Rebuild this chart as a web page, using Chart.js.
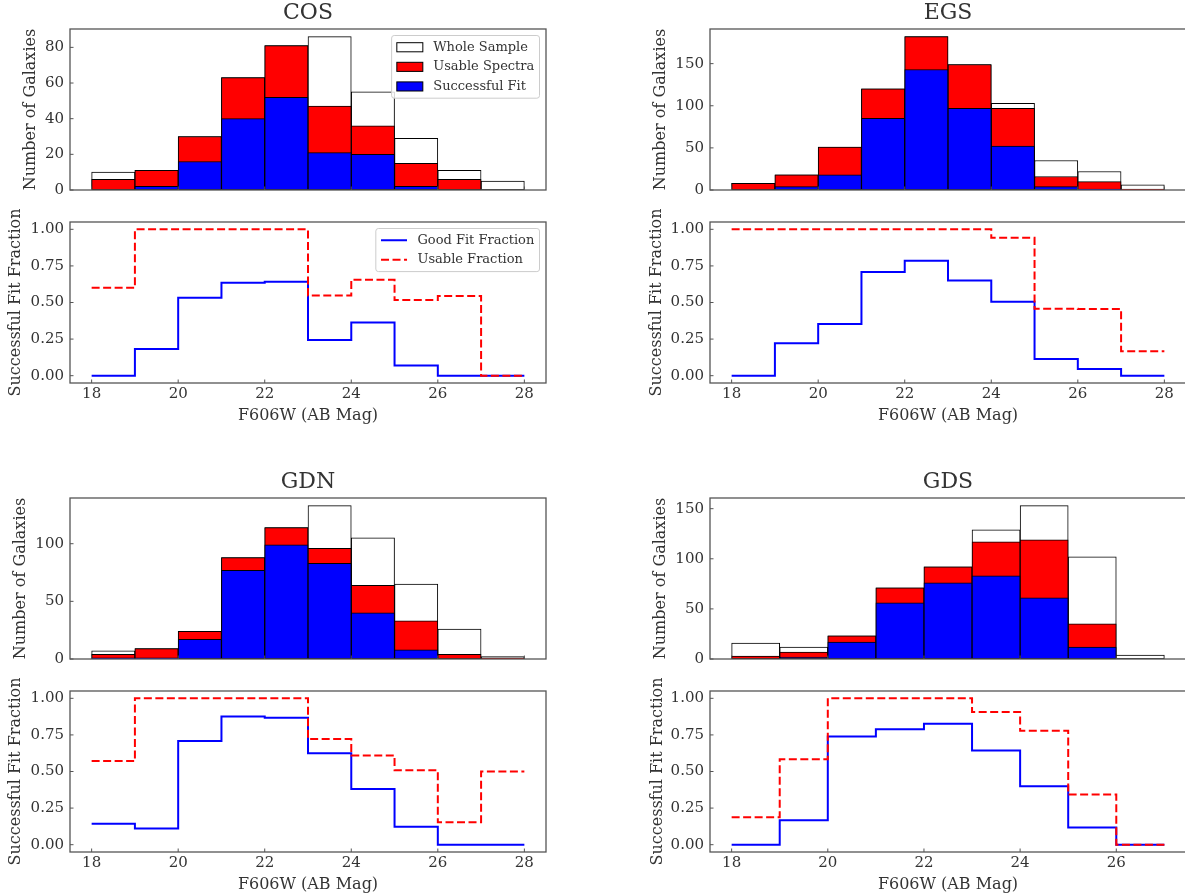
<!DOCTYPE html>
<html>
<head>
<meta charset="utf-8">
<title>F606W fit fractions</title>
<script src="https://cdn.jsdelivr.net/npm/chart.js@4.4.1/dist/chart.umd.min.js"></script>
<style>
  html, body { margin: 0; padding: 0; background: #fff; }
  #fig { position: relative; width: 1185px; height: 894px; overflow: hidden; }
  #fig canvas { position: absolute; }
</style>
</head>
<body>
<div id="fig"></div>
<script>
/* ── magnitude bins / tick labels ── */
const MAG_EDGES     = [18, 19, 20, 21, 22, 23, 24, 25, 26, 27, 28];
const MAG_EDGES_GDS = [18, 19, 20, 21, 22, 23, 24, 25, 26, 27];
const MAG_TICKS     = [18, 20, 22, 24, 26, 28];
const MAG_TICKS_GDS = [18, 20, 22, 24, 26];
const FRAC_TICKS    = [0, 0.25, 0.5, 0.75, 1];

/* ── COS ── */
const cosWhole      = [10, 11, 30, 63, 81, 86, 55, 29, 11, 5];
const cosUsable     = [6, 11, 30, 63, 81, 47, 36, 15, 6, 0];
const cosFit        = [0, 2, 16, 40, 52, 21, 20, 2, 0, 0];
const cosFitFrac    = [0, 0.182, 0.533, 0.635, 0.642, 0.244, 0.364, 0.069, 0, 0];
const cosUsableFrac = [0.6, 1, 1, 1, 1, 0.547, 0.655, 0.517, 0.545, 0];
const cosCountTicks = [0, 20, 40, 60, 80];

/* ── EGS ── */
const egsWhole      = [8, 18, 51, 120, 182, 149, 103, 35, 22, 6];
const egsUsable     = [8, 18, 51, 120, 182, 149, 97, 16, 10, 1];
const egsFit        = [0, 4, 18, 85, 143, 97, 52, 4, 1, 0];
const egsFitFrac    = [0, 0.222, 0.353, 0.708, 0.786, 0.651, 0.505, 0.114, 0.045, 0];
const egsUsableFrac = [1, 1, 1, 1, 1, 1, 0.942, 0.457, 0.455, 0.167];
const egsCountTicks = [0, 50, 100, 150];

/* ── GDN ── */
const gdnWhole      = [7, 9, 24, 88, 114, 133, 105, 65, 26, 2];
const gdnUsable     = [4, 9, 24, 88, 114, 96, 64, 33, 4, 1];
const gdnFit        = [1, 1, 17, 77, 99, 83, 40, 8, 0, 0];
const gdnFitFrac    = [0.143, 0.111, 0.708, 0.875, 0.868, 0.624, 0.381, 0.123, 0, 0];
const gdnUsableFrac = [0.571, 1, 1, 1, 1, 0.722, 0.610, 0.508, 0.154, 0.5];
const gdnCountTicks = [0, 50, 100];

/* ── GDS ── */
const gdsWhole      = [16, 12, 23, 71, 92, 129, 153, 102, 4];
const gdsUsable     = [3, 7, 23, 71, 92, 117, 119, 35, 0];
const gdsFit        = [0, 2, 17, 56, 76, 83, 61, 12, 0];
const gdsFitFrac    = [0, 0.167, 0.739, 0.789, 0.826, 0.643, 0.399, 0.118, 0];
const gdsUsableFrac = [0.188, 0.583, 1, 1, 1, 0.907, 0.778, 0.343, 0];
const gdsCountTicks = [0, 50, 100, 150];

const FIELDS = [
  { name: 'COS', edges: MAG_EDGES, magTicks: MAG_TICKS, whole: cosWhole, usable: cosUsable, fit: cosFit,
    fitFrac: cosFitFrac, usableFrac: cosUsableFrac, countTicks: cosCountTicks, legend: true },
  { name: 'EGS', edges: MAG_EDGES, magTicks: MAG_TICKS, whole: egsWhole, usable: egsUsable, fit: egsFit,
    fitFrac: egsFitFrac, usableFrac: egsUsableFrac, countTicks: egsCountTicks },
  { name: 'GDN', edges: MAG_EDGES, magTicks: MAG_TICKS, whole: gdnWhole, usable: gdnUsable, fit: gdnFit,
    fitFrac: gdnFitFrac, usableFrac: gdnUsableFrac, countTicks: gdnCountTicks },
  { name: 'GDS', edges: MAG_EDGES_GDS, magTicks: MAG_TICKS_GDS, whole: gdsWhole, usable: gdsUsable, fit: gdsFit,
    fitFrac: gdsFitFrac, usableFrac: gdsUsableFrac, countTicks: gdsCountTicks }
];

/* ── layout: 2x2 grid, each cell = counts on top, fractions below ── */
const COL_X  = [70, 710];     // axes left edge per column
const ROW_Y  = [29, 498];     // top axes top edge per row
const BOX_W  = 476, BOX_H = 161, SUB_GAP = 32;
const Y_SIDE = 70;            // room for y tick labels + title
const FR_TOP = 26;            // headroom above the fraction axes (long y title)
const YTITLE_PAD = { COS: [21.7, 6.4], EGS: [11.4, 7.4], GDN: [11, 6.4], GDS: [11.4, 7.8] };

/* ── styles ── */
const TXT   = '#333333';
const SPINE = '#555555';
const FONT  = "'DejaVu Serif', serif";
Chart.defaults.font.family = FONT;
Chart.defaults.color = TXT;

/* spines + inward ticks */
const frameTicks = {
  id: 'frameTicks',
  afterDatasetsDraw(chart) {
    const { ctx, chartArea: a, scales: { x, y } } = chart;
    ctx.save();
    ctx.strokeStyle = SPINE;
    ctx.lineWidth = 1;
    ctx.beginPath();
    y.ticks.forEach(t => {
      const p = y.getPixelForValue(t.value);
      ctx.moveTo(a.left, p); ctx.lineTo(a.left + 3.5, p);
    });
    x.ticks.forEach(t => {
      const p = x.getPixelForValue(t.value);
      ctx.moveTo(p, a.bottom); ctx.lineTo(p, a.bottom - 3.5);
    });
    ctx.stroke();
    ctx.lineWidth = 1.3;
    ctx.strokeRect(a.left, a.top, a.right - a.left, a.bottom - a.top);
    ctx.restore();
  }
};

/* legend box in the upper right corner of the axes */
const boxLegend = {
  id: 'boxLegend',
  afterDraw(chart) {
    const { ctx, chartArea: a } = chart;
    const sets = chart.data.datasets;
    const fs = 13, pad = 0.4 * fs, gap = 0.5 * fs, hl = 2 * fs, htp = 0.8 * fs, rowH = 13.1;
    ctx.save();
    ctx.font = `${fs}px ${FONT}`;
    const tw = Math.max(...sets.map(d => ctx.measureText(d.label).width));
    const w = pad * 2 + hl + htp + tw;
    const h = pad * 2 + sets.length * rowH + (sets.length - 1) * gap;
    const x0 = a.right - 0.5 * fs - w, y0 = a.top + 0.5 * fs;
    ctx.beginPath();
    ctx.roundRect(x0, y0, w, h, 2.6);
    ctx.fillStyle = 'rgba(255,255,255,0.8)';
    ctx.fill();
    ctx.strokeStyle = '#cccccc';
    ctx.lineWidth = 1;
    ctx.stroke();
    sets.forEach((d, i) => {
      const cy = y0 + pad + rowH / 2 + i * (rowH + gap);
      const hx = x0 + pad;
      if (chart.config.type === 'bar') {
        ctx.fillStyle = d.backgroundColor;
        ctx.fillRect(hx, cy - 0.35 * fs, hl, 0.7 * fs);
        ctx.strokeStyle = '#000';
        ctx.lineWidth = 1;
        ctx.strokeRect(hx, cy - 0.35 * fs, hl, 0.7 * fs);
      } else {
        ctx.strokeStyle = d.borderColor;
        ctx.lineWidth = d.borderWidth;
        ctx.setLineDash(d.borderDash || []);
        ctx.beginPath();
        ctx.moveTo(hx, cy); ctx.lineTo(hx + hl, cy);
        ctx.stroke();
        ctx.setLineDash([]);
      }
      ctx.fillStyle = TXT;
      ctx.textAlign = 'left';
      ctx.textBaseline = 'middle';
      ctx.fillText(d.label, hx + hl + htp, cy);
    });
    ctx.restore();
  }
};

function addCanvas(left, top, w, h) {
  const c = document.createElement('canvas');
  c.width = w; c.height = h;
  c.style.left = left + 'px'; c.style.top = top + 'px';
  c.style.width = w + 'px'; c.style.height = h + 'px';
  document.getElementById('fig').appendChild(c);
  return c;
}

function magRange(edges) {
  const lo = edges[0], hi = edges[edges.length - 1], m = 0.05 * (hi - lo);
  return [lo - m, hi + m];
}

function magScale(f, showLabels, height) {
  const [min, max] = magRange(f.edges);
  return {
    type: 'linear', min, max, offset: false,
    grid: { display: false, drawTicks: false },
    border: { display: false },
    ticks: { display: showLabels, padding: 2, autoSkip: false, maxRotation: 0, font: { size: 15 }, color: TXT },
    title: { display: showLabels, text: 'F606W (AB Mag)', font: { size: 16 }, color: TXT,
             padding: { top: 0, bottom: 3.9 } },
    afterBuildTicks: s => { s.ticks = f.magTicks.map(v => ({ value: v })); },
    afterFit: s => { s.height = height; s.paddingLeft = 0; s.paddingRight = 0; }
  };
}

function valueScale(ticks, min, max, fmt, text, titlePad) {
  return {
    min, max,
    grid: { display: false, drawTicks: false },
    border: { display: false },
    ticks: { padding: 6, autoSkip: false, font: { size: 15 }, color: TXT, callback: fmt },
    title: { display: true, text, font: { size: 16 }, color: TXT, padding: { top: titlePad, bottom: 0 } },
    afterBuildTicks: s => { s.ticks = ticks.map(v => ({ value: v })); },
    afterFit: s => { s.width = Y_SIDE; s.paddingTop = 0; s.paddingBottom = 0; }
  };
}

/* ── histogram: whole / usable / fit overlaid ── */
function drawCounts(f, col, row) {
  const cv = addCanvas(COL_X[col] - Y_SIDE, ROW_Y[row] - 29, BOX_W + 2 * Y_SIDE, 29 + BOX_H + 6);
  const centers = f.edges.slice(0, -1).map((e, i) => (e + f.edges[i + 1]) / 2);
  const bars = vals => vals.map((v, i) => ({ x: centers[i], y: v }));
  const style = { borderColor: '#000', borderWidth: 1, borderSkipped: false,
                  barPercentage: 1, categoryPercentage: 1, grouped: false };

  new Chart(cv, {
    type: 'bar',
    data: {
      datasets: [
        { label: 'Whole Sample',   data: bars(f.whole),  backgroundColor: '#ffffff', order: 3, ...style },
        { label: 'Usable Spectra', data: bars(f.usable), backgroundColor: '#ff0000', order: 2, ...style },
        { label: 'Successful Fit', data: bars(f.fit),    backgroundColor: '#0000ff', order: 1, ...style }
      ]
    },
    options: {
      responsive: false,
      animation: false,
      events: [],
      layout: { padding: { top: 0, left: 0, right: Y_SIDE, bottom: 0 } },
      plugins: {
        legend: { display: false },
        tooltip: { enabled: false },
        title: { display: true, fullSize: false, text: f.name, color: TXT,
                 font: { size: 22, weight: 'normal' }, padding: { top: 0, bottom: 2.6 } }
      },
      scales: {
        x: magScale(f, false, 6),
        y: valueScale(f.countTicks, 0, 1.05 * Math.max(...f.whole), v => v,
                      'Number of Galaxies', YTITLE_PAD[f.name][0])
      }
    },
    plugins: f.legend ? [frameTicks, boxLegend] : [frameTicks]
  });
}

/* ── fraction step lines ── */
function drawFractions(f, col, row) {
  const top = ROW_Y[row] + BOX_H + SUB_GAP;
  const cv = addCanvas(COL_X[col] - Y_SIDE, top - FR_TOP, BOX_W + 2 * Y_SIDE, FR_TOP + BOX_H + 46);
  const last = f.edges.length - 1;
  const steps = vals => vals.map((v, i) => ({ x: f.edges[i], y: v }))
                            .concat([{ x: f.edges[last], y: vals[vals.length - 1] }]);
  const style = { borderWidth: 2, pointRadius: 0, fill: false, tension: 0, stepped: 'before' };

  new Chart(cv, {
    type: 'line',
    data: {
      datasets: [
        { label: 'Good Fit Fraction', data: steps(f.fitFrac), borderColor: '#0000ff', order: 2, ...style },
        { label: 'Usable Fraction', data: steps(f.usableFrac), borderColor: '#ff0000',
          borderDash: [8, 3.5], order: 1, ...style }
      ]
    },
    options: {
      responsive: false,
      animation: false,
      events: [],
      layout: { padding: { top: FR_TOP, left: 0, right: Y_SIDE, bottom: 0 } },
      plugins: { legend: { display: false }, tooltip: { enabled: false } },
      scales: {
        x: magScale(f, true, 46),
        y: valueScale(FRAC_TICKS, -0.05, 1.05, v => v.toFixed(2),
                      'Successful Fit Fraction', YTITLE_PAD[f.name][1])
      }
    },
    plugins: f.legend ? [frameTicks, boxLegend] : [frameTicks]
  });
}

FIELDS.forEach((f, i) => {
  const col = i % 2, row = Math.floor(i / 2);
  drawCounts(f, col, row);
  drawFractions(f, col, row);
});
</script>
</body>
</html>
